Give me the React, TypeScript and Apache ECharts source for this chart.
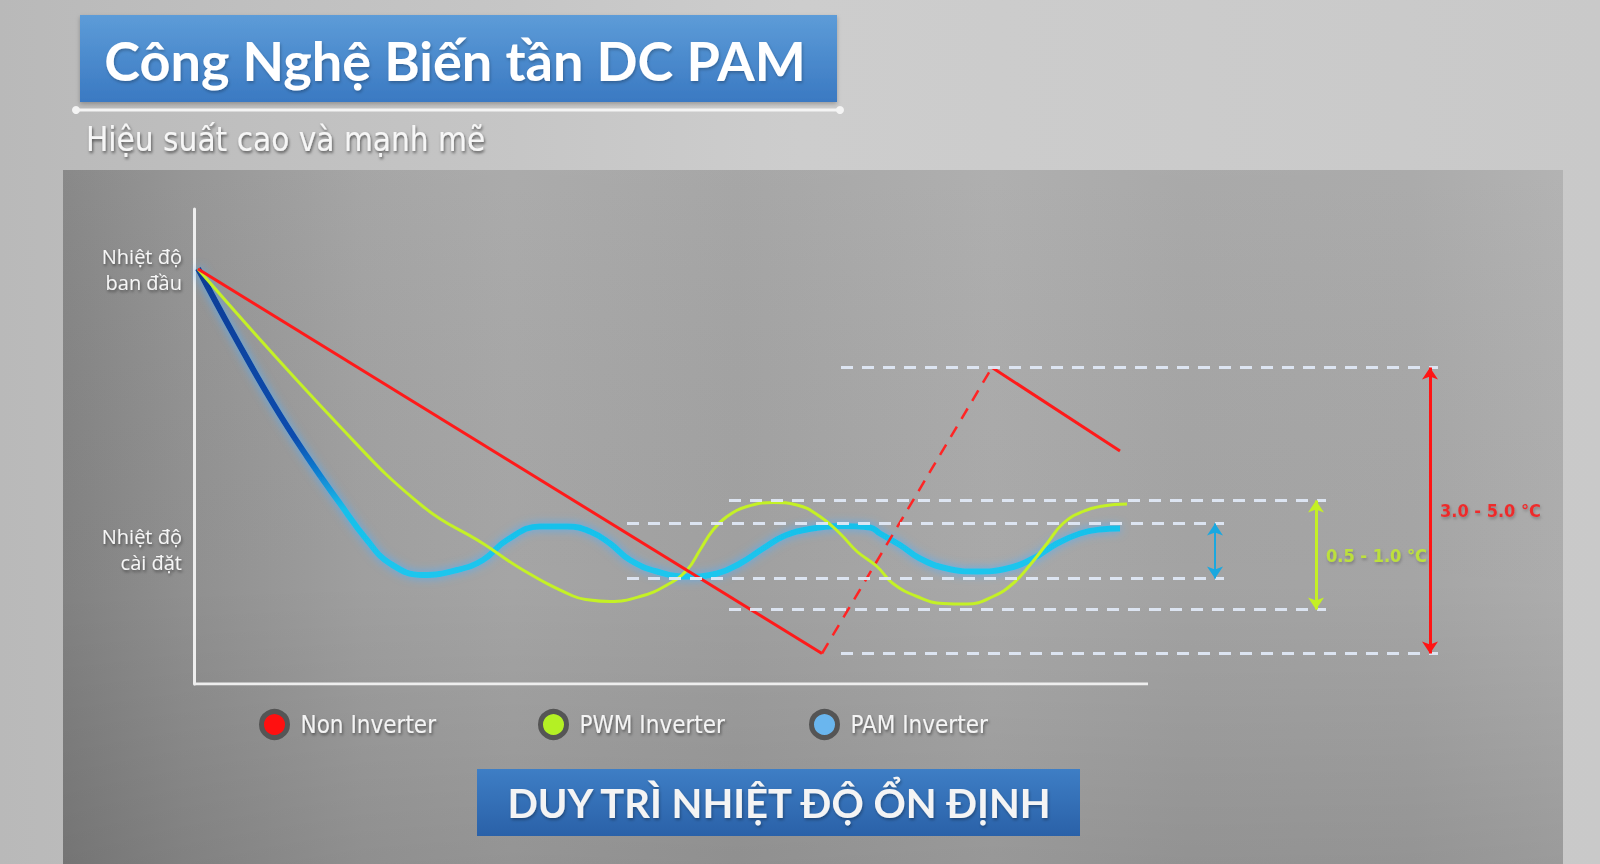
import { useEffect, useRef } from 'react';
import * as echarts from 'echarts';

// chart units: x = time (0..140), y = temperature level (0..95)
const xMax = 140;
const yMax = 95;
const xAxisEnd = 95.4;
const setPointLevel = 26.9;
const setPointEnd = 95.2;

const yLabelValues = [83, 26.9];
const yLabelTexts = ['Nhiệt độ\nban đầu', 'Nhiệt độ\ncài đặt'];

const seriesNames = ['Non Inverter', 'PWM Inverter', 'PAM Inverter'];
const legendColors = ['#ff1010', '#b4f024', '#6ab6ee'];

// Non Inverter: on/off, drawn in three pieces
const nonFall = [[0.4, 83], [62.8, 6.1]];
const nonRestart = [[62.8, 6.1], [79.8, 63.3]];
const nonCool = [[79.8, 63.3], [92.6, 46.6]];

// PWM Inverter
const pwmCurve = [
  [0.4, 83], [14.6, 51.5], [22.9, 35.5], [28.9, 28.1], [32.9, 22.8], [37.9, 17.6],
  [39.6, 16.8], [41.6, 16.5], [44.6, 17.5], [47.3, 19.8], [49.3, 22.8], [50.6, 26.8],
  [51.9, 30.8], [53.3, 33.5], [55.3, 35.5], [57.9, 36.3], [60.3, 35.8], [62.6, 33.5],
  [64.6, 30.1], [66.3, 26.5], [68.3, 23.5], [69.9, 20.1], [72.3, 17.5], [74.9, 16.1],
  [77.3, 16.0], [79.9, 17.5], [81.9, 20.1], [83.6, 23.8], [85.3, 28.1], [86.9, 32.1],
  [88.9, 34.5], [90.9, 35.6], [93.3, 36.0],
];

// PAM Inverter
const pamCurve = [
  [0.4, 83.1], [3.9, 70.1], [7.9, 56.1], [11.3, 45.5], [14.6, 36.1], [17.3, 28.8],
  [19.6, 24.1], [22.9, 21.8], [26.3, 22.8], [28.9, 24.8], [31.3, 28.8], [34.6, 31.5],
  [37.3, 31.5], [39.6, 30.5], [41.6, 28.1], [43.6, 24.8], [46.3, 22.5], [49.3, 21.5],
  [52.3, 22.1], [54.6, 24.1], [56.9, 27.1], [58.9, 29.5], [61.3, 30.9], [64.6, 31.6],
  [67.6, 31.3], [68.6, 30.1], [70.6, 27.8], [72.6, 25.1], [75.3, 23.1], [78.3, 22.5],
  [81.3, 23.1], [83.9, 25.1], [86.3, 28.1], [88.6, 30.1], [90.6, 30.9], [92.6, 31.1],
];

// swing bands: [low, high], guide x range, arrow x
const bandLows = [6.1, 14.9, 21.1];
const bandHighs = [63.3, 36.7, 32.1];
const bandStarts = [64.7, 53.5, 43.3];
const bandEnds = [124.4, 113.2, 103];
const bandArrowX = [123.6, 112.2, 102.1];
const bandLabels = ['3.0 - 5.0 °C', '0.5 - 1.0 °C', ''];
const bandColors = ['#ff1414', '#c4f024', '#1aa8e0'];

const legendLefts = [259, 538, 809];

const narrow = "'DejaVu Sans Condensed', Roboto, sans-serif";

const lg = (x1: number, y1: number, x2: number, y2: number, stops: [number, string][]) =>
  new echarts.graphic.LinearGradient(x1, y1, x2, y2, stops.map(([offset, color]) => ({ offset, color })));

const textShadow = {
  textShadowColor: 'rgba(0,0,0,0.45)',
  textShadowBlur: 3,
  textShadowOffsetX: 1,
  textShadowOffsetY: 2,
};

export default function App() {
  const ref = useRef<HTMLDivElement>(null);

  useEffect(() => {
    if (!ref.current) return;
    const chart = echarts.init(ref.current, undefined, { renderer: 'svg' });

    const guides: any[] = [];
    bandLows.forEach((lo, i) => {
      guides.push({ coords: [[bandStarts[i], bandHighs[i]], [bandEnds[i], bandHighs[i]]] });
      guides.push({ coords: [[bandStarts[i], lo], [bandEnds[i], lo]] });
    });

    const arrows = bandLows.map((lo, i) => ({
      coords: [[bandArrowX[i], bandHighs[i]], [bandArrowX[i], lo]],
      lineStyle: { color: bandColors[i], width: i === 2 ? 2 : 3, opacity: 1 },
    }));

    const bandLabelData = bandLows
      .map((lo, i) => ({
        value: [bandArrowX[i], (lo + bandHighs[i]) / 2],
        name: bandLabels[i],
        label: { color: bandColors[i] },
      }))
      .filter((d) => d.name);

    const plain = { type: 'line', symbol: 'none', silent: true, animation: false } as const;

    chart.setOption({
      animation: false,
      backgroundColor: '#c4c4c4',
      grid: { left: 194, top: 209, width: 1400, height: 475 },
      xAxis: { type: 'value', min: 0, max: xMax, show: false },
      yAxis: {
        type: 'value',
        min: 0,
        max: yMax,
        splitLine: { show: false },
        axisTick: { show: false },
        axisLine: { show: true, lineStyle: { color: '#eeeeee', width: 3 } },
        axisLabel: {
          customValues: yLabelValues,
          formatter: (v: number) => {
            let best = 0;
            yLabelValues.forEach((y, i) => {
              if (Math.abs(y - v) < Math.abs(yLabelValues[best] - v)) best = i;
            });
            return yLabelTexts[best];
          },
          color: '#f6f6f6',
          fontFamily: 'Open Sans',
          fontSize: 20,
          lineHeight: 26,
          align: 'right',
          margin: 12,
          ...textShadow,
        },
      },
      legend: seriesNames.map((name, i) => ({
        left: legendLefts[i],
        top: 709,
        padding: 0,
        icon: 'circle',
        itemWidth: 26,
        itemHeight: 26,
        selectedMode: false,
        itemStyle: { borderColor: '#555555', borderWidth: 5 },
        data: [{ name, itemStyle: { color: legendColors[i] } }],
        textStyle: {
          color: '#f4f4f4',
          fontFamily: narrow,
          fontSize: 24,
          padding: [0, 0, 0, 8],
          ...textShadow,
        },
      })),
      graphic: [
        {
          type: 'rect',
          z: -100,
          shape: { x: 0, y: 0, width: 1600, height: 864 },
          style: { fill: lg(0, 0, 1, 0, [[0, '#b9b9b9'], [0.5, '#cdcdcd'], [1, '#c9c9c9']]) },
        },
        {
          type: 'rect',
          z: -90,
          shape: { x: 63, y: 170, width: 1500, height: 694 },
          style: {
            fill: lg(0, 0, 1, 0, [
              [0, '#848484'], [0.08, '#929292'], [0.2, '#a2a2a2'], [0.3, '#a8a8a8'],
              [0.45, '#a3a3a3'], [0.62, '#acacac'], [0.75, '#a6a6a6'], [0.9, '#a8a8a8'], [1, '#b0b0b0'],
            ]),
          },
        },
        {
          type: 'rect',
          z: -89,
          shape: { x: 63, y: 170, width: 1500, height: 694 },
          style: { fill: lg(0, 0, 0, 1, [[0, 'rgba(255,255,255,0.04)'], [0.6, 'rgba(0,0,0,0.02)'], [1, 'rgba(0,0,0,0.12)']]) },
        },
        {
          type: 'rect',
          z: 10,
          shape: { x: 80, y: 15, width: 757, height: 87 },
          style: {
            fill: lg(0, 0, 0, 1, [[0, '#5d9cd8'], [1, '#3a79c2']]),
            shadowColor: 'rgba(0,0,0,0.25)',
            shadowBlur: 4,
            shadowOffsetY: 2,
          },
        },
        {
          type: 'text',
          z: 11,
          style: {
            text: 'Công Nghệ Biến tần DC PAM',
            x: 455,
            y: 60,
            fill: '#ffffff',
            font: 'bold 54px Lato',
            textAlign: 'center',
            textVerticalAlign: 'middle',
            ...textShadow,
            textShadowColor: 'rgba(0,0,0,0.25)',
          },
        },
        {
          type: 'line',
          z: 10,
          shape: { x1: 76, y1: 110, x2: 840, y2: 110 },
          style: { stroke: '#f4f4f4', lineWidth: 3 },
        },
        { type: 'circle', z: 10, shape: { cx: 76, cy: 110, r: 4 }, style: { fill: '#f4f4f4' } },
        { type: 'circle', z: 10, shape: { cx: 840, cy: 110, r: 4 }, style: { fill: '#f4f4f4' } },
        {
          type: 'text',
          z: 11,
          style: {
            text: 'Hiệu suất cao và mạnh mẽ',
            x: 86,
            y: 139,
            fill: '#f6f6f6',
            font: `33px ${narrow}`,
            textVerticalAlign: 'middle',
            ...textShadow,
            textShadowColor: 'rgba(0,0,0,0.55)',
          },
        },
        {
          type: 'rect',
          z: 10,
          shape: { x: 477, y: 769, width: 603, height: 67 },
          style: { fill: lg(0, 0, 0, 1, [[0, '#3e7ec5'], [1, '#2a61a8']]) },
        },
        {
          type: 'text',
          z: 11,
          style: {
            text: 'DUY TRÌ NHIỆT ĐỘ ỔN ĐỊNH',
            x: 779,
            y: 803,
            fill: '#f4f4f4',
            font: 'bold 40px Lato',
            textAlign: 'center',
            textVerticalAlign: 'middle',
            ...textShadow,
            textShadowColor: 'rgba(0,0,0,0.3)',
          },
        },
      ],
      series: [
        {
          ...plain,
          z: 1,
          data: [[0, setPointLevel], [setPointEnd, setPointLevel]],
          lineStyle: {
            width: 20,
            cap: 'butt',
            color: lg(0, 0, 1, 0, [[0, '#ffac0c'], [0.975, '#ffac0c'], [1, 'rgba(255,172,12,0)']]),
          },
        },
        {
          ...plain,
          z: 1,
          data: [[0, 0], [xAxisEnd, 0]],
          lineStyle: { width: 3, color: '#eeeeee' },
        },
        {
          ...plain,
          name: seriesNames[2],
          z: 3,
          data: pamCurve,
          smooth: 0.45,
          itemStyle: { color: legendColors[2] },
          lineStyle: {
            width: 6,
            color: lg(0, 0, 0, 1, [
              [0, '#0a3c95'], [0.55, '#0b4cae'], [0.66, '#107ed0'], [0.78, '#18bfea'], [1, '#1bc6ee'],
            ]),
            shadowColor: 'rgba(80,175,255,0.9)',
            shadowBlur: 10,
          },
        },
        {
          ...plain,
          name: seriesNames[1],
          z: 4,
          data: pwmCurve,
          smooth: 0.45,
          itemStyle: { color: legendColors[1] },
          lineStyle: { width: 3, color: '#c4f126' },
        },
        {
          ...plain,
          name: seriesNames[0],
          z: 5,
          data: nonFall,
          itemStyle: { color: legendColors[0] },
          lineStyle: { width: 3, color: '#ff1a1a' },
        },
        {
          ...plain,
          name: seriesNames[0],
          z: 5,
          data: nonRestart,
          itemStyle: { color: legendColors[0] },
          lineStyle: { width: 2.5, color: '#ff2424', type: [12, 9] },
        },
        {
          ...plain,
          name: seriesNames[0],
          z: 5,
          data: nonCool,
          itemStyle: { color: legendColors[0] },
          lineStyle: { width: 3, color: '#ff1a1a' },
        },
        {
          type: 'lines',
          coordinateSystem: 'cartesian2d',
          silent: true,
          z: 6,
          data: guides,
          lineStyle: { width: 3, color: '#dfe8f6', type: [12, 9], opacity: 0.95 },
        },
        {
          type: 'lines',
          coordinateSystem: 'cartesian2d',
          silent: true,
          z: 6,
          symbol: ['arrow', 'arrow'],
          symbolSize: 12,
          data: arrows,
        },
        {
          type: 'scatter',
          silent: true,
          z: 7,
          symbolSize: 0,
          data: bandLabelData,
          label: {
            show: true,
            position: 'right',
            distance: 10,
            formatter: '{b}',
            fontFamily: narrow,
            fontWeight: 'bold',
            fontSize: 18,
            ...textShadow,
            textShadowColor: 'rgba(0,0,0,0.3)',
          },
        },
      ],
    });

    return () => chart.dispose();
  }, []);

  return <div ref={ref} style={{ position: 'fixed', left: 0, top: 0, width: 1600, height: 864 }} />;
}
